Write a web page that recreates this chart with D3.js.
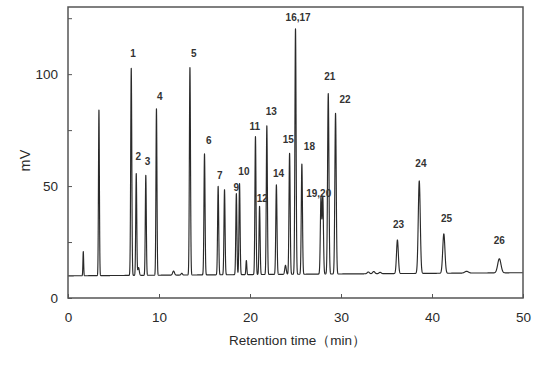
<!DOCTYPE html>
<html><head><meta charset="utf-8">
<script src="https://cdn.jsdelivr.net/npm/d3@7"></script>
<style>body{margin:0;background:#fff}svg{display:block}</style>
</head><body>
<svg id="c" width="554" height="367"></svg>
<script>
// ---- data ----
const peakTimes   = [1.68, 3.40, 6.95, 7.50, 7.75, 8.55, 9.72, 11.6, 12.5, 13.40, 15.00, 16.50, 17.20, 18.50, 18.85, 19.60, 20.60, 21.05, 21.85, 22.90, 23.90, 24.35, 25.00, 25.70, 27.80, 28.00, 28.60, 29.40, 33.0, 33.6, 34.3, 36.20, 38.60, 41.30, 43.8, 47.40];
const peakHeights = [10.8, 74.0, 92.5, 45.5, 3.5, 44.7, 74.3, 1.8, 0.8, 92.7, 54.1, 39.5, 38.0, 36.2, 40.7, 6.3, 61.6, 30.5, 66.4, 40.0, 4.0, 54.1, 109.7, 49.2, 34.0, 34.3, 80.6, 71.8, 0.8, 1.0, 0.6, 15.0, 41.3, 17.6, 0.8, 6.3];
const peakWidths  = [0.04, 0.05, 0.06, 0.055, 0.08, 0.055, 0.055, 0.1, 0.08, 0.06, 0.06, 0.06, 0.06, 0.06, 0.06, 0.05, 0.06, 0.06, 0.06, 0.065, 0.08, 0.065, 0.065, 0.065, 0.07, 0.07, 0.075, 0.075, 0.12, 0.12, 0.12, 0.10, 0.11, 0.12, 0.2, 0.18];
const baselineTimes  = [0, 50];
const baselineLevels = [9.9, 11.3];

const labelTexts = ["1","2","3","4","5","6","7","9","10","11","12","13","14","15","16,17","18","19,20","21","22","23","24","25","26"];
const labelTimes = [7.16, 7.71, 8.74, 10.09, 13.82, 15.48, 16.67, 18.5, 19.33, 20.54, 21.35, 22.34, 23.14, 24.2, 25.29, 26.53, 27.55, 28.76, 30.45, 36.33, 38.78, 41.59, 47.4];
const labelValues = [109.3, 63.4, 60.8, 90.0, 109.3, 70.4, 54.7, 49.4, 56.6, 76.5, 44.4, 83.1, 55.4, 70.7, 125.4, 67.8, 46.9, 98.9, 88.8, 33.0, 60.0, 35.4, 25.7];

const xTicks = [0, 10, 20, 30, 40, 50];
const yTicks = [0, 25, 50, 75, 100, 125];
const yTickLabels = [0, 50, 100];

// ---- chart ----
const svg = d3.select("#c");
const mLeft = 68, mRight = 523, mTop = 7, mBottom = 298;
const x = d3.scaleLinear().domain([0, 50]).range([mLeft, mRight]);
const y = d3.scaleLinear().domain([0, 130]).range([mBottom, mTop]);
const base = d3.scaleLinear().domain(baselineTimes).range(baselineLevels);

// chromatogram trace: baseline + peaks (each peak from its time/height/width)
const step = 0.005;
const times = d3.range(0, 50 + step / 2, step);
const signal = times.map(t => {
  let v = base(t);
  for (let i = 0; i < peakTimes.length; i++) {
    const d = (t - peakTimes[i]) / peakWidths[i];
    if (Math.abs(d) < 8) v += peakHeights[i] * Math.exp(-0.5 * d * d);
  }
  return [t, v];
});

svg.append("path")
  .datum(signal)
  .attr("fill", "none")
  .attr("stroke", "#2a2a2a")
  .attr("stroke-width", 1.15)
  .attr("stroke-linejoin", "round")
  .attr("d", d3.line().x(d => x(d[0])).y(d => y(d[1])));

// frame
svg.append("rect")
  .attr("x", mLeft).attr("y", mTop)
  .attr("width", mRight - mLeft).attr("height", mBottom - mTop)
  .attr("fill", "none").attr("stroke", "#555").attr("stroke-width", 1.5);

// axes (ticks pointing inward)
const xAxis = d3.axisBottom(x).tickValues(xTicks).tickSize(-4).tickPadding(14).tickFormat(d3.format("d"));
const gx = svg.append("g").attr("transform", `translate(0,${mBottom})`).call(xAxis);
const yAxis = d3.axisLeft(y).tickValues(yTicks).tickSize(-4).tickPadding(10)
  .tickFormat(d => yTickLabels.includes(d) ? d : "");
const gy = svg.append("g").attr("transform", `translate(${mLeft},0)`).call(yAxis);
[gx, gy].forEach(g => {
  g.select(".domain").remove();
  g.selectAll(".tick line").attr("stroke", "#555").attr("stroke-width", 1);
  g.selectAll(".tick text").attr("fill", "#2a2a2a").attr("font-size", 13.5)
    .attr("font-family", "Liberation Sans, Arial, sans-serif");
});

// axis titles
svg.append("text")
  .attr("x", (mLeft + mRight) / 2 + 2).attr("y", 345)
  .attr("text-anchor", "middle").attr("fill", "#2a2a2a")
  .attr("font-family", "Liberation Sans, Arial, sans-serif").attr("font-size", 13.5)
  .text("Retention time（min）");
svg.append("text")
  .attr("transform", `translate(30,${(mTop + mBottom) / 2 + 8}) rotate(-90)`)
  .attr("text-anchor", "middle").attr("fill", "#2a2a2a")
  .attr("font-family", "Liberation Sans, Arial, sans-serif").attr("font-size", 14.5)
  .text("mV");

// peak labels
svg.append("g").selectAll("text")
  .data(labelTexts)
  .join("text")
  .attr("x", (d, i) => x(labelTimes[i]))
  .attr("y", (d, i) => y(labelValues[i]))
  .attr("dy", "0.35em")
  .attr("text-anchor", "middle")
  .attr("fill", "#333")
  .attr("font-family", "Liberation Sans, Arial, sans-serif")
  .attr("font-size", 10)
  .attr("font-weight", "bold")
  .text(d => d);
</script>
</body></html>
